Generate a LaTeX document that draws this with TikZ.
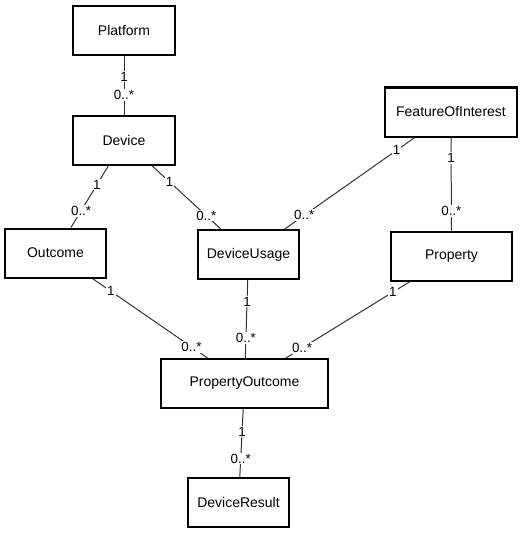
\documentclass[tikz,border=0pt]{standalone}
\usepackage{fontspec}
\setmainfont{Liberation Sans}

\begin{document}
\begin{tikzpicture}[x=0.75pt, y=-0.75pt,
        entity/.style={draw, line width=1.5pt, minimum height=36.75pt,
            inner sep=2pt, font=\fontsize{10.5}{12}\selectfont},
        assoc/.style={draw=black!80, line width=0.75pt},
        mult/.style={fill=white, inner sep=0.8pt, font=\fontsize{10}{11}\selectfont}]
        \useasboundingbox (0, 0) rectangle (521, 535);
        % classes
        \node[entity, minimum width=76.5pt]  (platform) at (124, 30.5)    {Platform};
        \node[entity, minimum width=76.5pt]  (device)   at (124, 140)     {Device};
        \node[entity, minimum width=99pt]    (foi)      at (451, 112)     {FeatureOfInterest};
        \node[entity, minimum width=75.75pt] (outcome)  at (55.5, 253)    {Outcome};
        \node[entity, minimum width=75.75pt] (usage)    at (248.5, 254.5) {DeviceUsage};
        \node[entity, minimum width=90.75pt] (property) at (451.5, 256)   {Property};
        \node[entity, minimum width=125.25pt] (propout) at (244.5, 383.5) {PropertyOutcome};
        \node[entity, minimum width=75.75pt] (result)   at (238.5, 502.5) {DeviceResult};
        % associations
        \draw[assoc] (platform) -- (device)
            node[mult, pos=0.35] {1} node[mult, pos=0.67] {0..*};
        \draw[assoc] (device) -- (outcome)
            node[mult, pos=0.31] {1} node[mult, pos=0.73] {0..*};
        \draw[assoc] (device) -- (usage)
            node[mult, pos=0.26] {1} node[mult, pos=0.79] {0..*};
        \draw[assoc] (foi) -- (usage)
            node[mult, pos=0.14] {1} node[mult, pos=0.85] {0..*};
        \draw[assoc] (foi) -- (property)
            node[mult, pos=0.22] {1} node[mult, pos=0.79] {0..*};
        \draw[assoc] (outcome) -- (propout)
            node[mult, pos=0.16] {1} node[mult, pos=0.86] {0..*};
        \draw[assoc] (usage) -- (propout)
            node[mult, pos=0.275] {1} node[mult, pos=0.74] {0..*};
        \draw[assoc] (property) -- (propout)
            node[mult, pos=0.14] {1} node[mult, pos=0.87] {0..*};
        \draw[assoc] (propout) -- (result)
            node[mult, pos=0.33] {1} node[mult, pos=0.73] {0..*};
\end{tikzpicture}
\end{document}
